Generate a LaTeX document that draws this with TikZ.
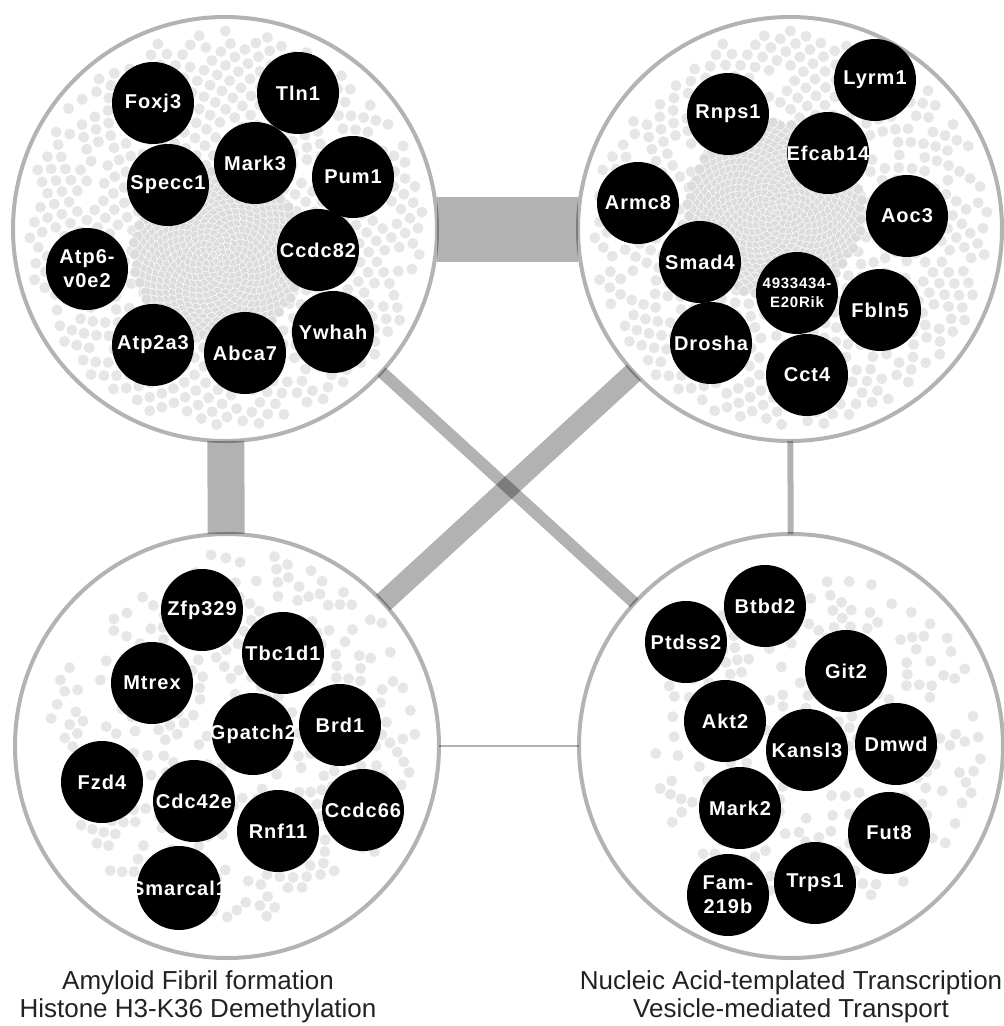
\documentclass[tikz,border=0pt]{standalone}
\usepackage{fontspec}
\setmainfont{Liberation Sans}
\newfontfamily\genefont[LetterSpace=5]{Liberation Sans}
\usetikzlibrary{positioning}

\definecolor{ringgray}{HTML}{B3B3B3}
\definecolor{dotgray}{HTML}{E6E6E6}
\definecolor{coregray}{HTML}{DCDCDC}
\definecolor{textgray}{HTML}{222222}

% sunflower field of background dots: centre x, centre y, count, spacing, keep ratio, style
\newcommand\dotfield[6]{%
  \foreach \k in {1,...,#3}{
    \pgfmathtruncatemacro\keep{rnd<#5}
    \ifnum\keep=1
      \pgfmathsetmacro\ang{360*mod(\k*0.381966,1)}
      \pgfmathsetmacro\rad{#4*sqrt(\k)}
      \path[#6] (#1,#2) ++(\ang:\rad) circle (5.5);
    \fi
  }}

\begin{document}
\begin{tikzpicture}[x=1pt, y=-1pt,
    group/.style={circle, draw=ringgray, line width=4pt, fill=white, minimum size=424pt, inner sep=0pt, outer sep=0pt},
    gene/.style={circle, fill=black, text=white, minimum size=82pt, inner sep=-6pt, align=center,
                 font=\genefont\bfseries\fontsize{20}{24}\selectfont},
    smallgene/.style={font=\genefont\bfseries\fontsize{15}{19}\selectfont},
    outerdot/.style={fill=dotgray},
    coredot/.style={fill=coregray, draw=white, line width=0.5pt},
    link/.style={draw=black, draw opacity=0.3},
    termlabel/.style={align=center, inner sep=0pt, text=textgray, font=\fontsize{26}{28}\selectfont}]
  \useasboundingbox (0,0) rectangle (1004,1026);

  \node[group] (tl) at (225,229) {};
  \node[group] (tr) at (790,229) {};
  \node[group] (bl) at (227,746) {};
  \node[group] (br) at (791,746) {};

  % background dots
  \pgfmathsetseed{11}
  \dotfield{225}{229}{735}{7.3}{0.85}{outerdot}
  \dotfield{218}{255}{560}{3.6}{1}{coredot}
  \dotfield{790}{229}{735}{7.3}{0.85}{outerdot}
  \dotfield{775}{210}{600}{3.6}{1}{coredot}
  \dotfield{235}{735}{740}{6.8}{0.42}{outerdot}
  \dotfield{818}{742}{600}{6.8}{0.40}{outerdot}

  % top left
  \path node[gene] (foxj3)  at (153,103) {Foxj3}
        node[gene] (tln1)   at (298,93)  {Tln1}
        node[gene] (mark3)  at (255,163) {Mark3}
        node[gene] (pum1)   at (353,177) {Pum1}
        node[gene] (specc1) at (168,185) {Specc1}
        node[gene] (ccdc82) at (318,250) {Ccdc82}
        node[gene] (atp6)   at (87,269)  {Atp6-\\v0e2}
        node[gene] (ywhah)  at (333,332) {Ywhah}
        node[gene] (atp2a3) at (153,345) {Atp2a3}
        node[gene] (abca7)  at (245,353) {Abca7};
  % top right
  \path node[gene] (rnps1)   at (728,114) {Rnps1}
        node[gene] (lyrm1)   at (875,80)  {Lyrm1}
        node[gene] (efcab14) at (828,153) {Efcab14}
        node[gene] (armc8)   at (638,203) {Armc8}
        node[gene] (aoc3)    at (907,216) {Aoc3}
        node[gene] (smad4)   at (700,262) {Smad4}
        node[gene,smallgene] (rik) at (797,293) {4933434-\\E20Rik}
        node[gene] (fbln5)   at (880,310) {Fbln5}
        node[gene] (drosha)  at (711,343) {Drosha}
        node[gene] (cct4)    at (807,375) {Cct4};
  % bottom left
  \path node[gene] (zfp329)   at (202,610) {Zfp329}
        node[gene] (tbc1d1)   at (283,653) {Tbc1d1}
        node[gene] (mtrex)    at (152,683) {Mtrex}
        node[gene] (gpatch2)  at (253,734) {Gpatch2}
        node[gene] (brd1)     at (340,725) {Brd1}
        node[gene] (fzd4)     at (102,782) {Fzd4}
        node[gene] (cdc42e)   at (194,801) {Cdc42e}
        node[gene] (ccdc66)   at (363,810) {Ccdc66}
        node[gene] (rnf11)    at (278,831) {Rnf11}
        node[gene] (smarcal1) at (179,888) {Smarcal1};
  % bottom right
  \path node[gene] (btbd2)  at (765,606) {Btbd2}
        node[gene] (ptdss2) at (686,642) {Ptdss2}
        node[gene] (git2)   at (846,671) {Git2}
        node[gene] (akt2)   at (725,721) {Akt2}
        node[gene] (kansl3) at (807,750) {Kansl3}
        node[gene] (dmwd)   at (896,744) {Dmwd}
        node[gene] (mark2)  at (740,808) {Mark2}
        node[gene] (fut8)   at (889,833) {Fut8}
        node[gene] (trps1)  at (815,883) {Trps1}
        node[gene] (fam219b) at (728,895) {Fam-\\219b};

  % links between the groups
  \draw[link, line width=65pt] (tl) -- (tr);
  \draw[link, line width=37pt] (tl) -- (bl);
  \draw[link, line width=21pt] (tr) -- (bl);
  \draw[link, line width=12pt] (tl) -- (br);
  \draw[link, line width=6pt]  (tr) -- (br);
  \draw[link, line width=1.5pt] (bl) -- (br);

  \node[termlabel, below=12pt of bl, xshift=-29pt] (bllabel) {Amyloid Fibril formation\\Histone H3-K36 Demethylation};
  \node[termlabel, below=12pt of br] (brlabel) {Nucleic Acid-templated Transcription\\Vesicle-mediated Transport};
\end{tikzpicture}
\end{document}
